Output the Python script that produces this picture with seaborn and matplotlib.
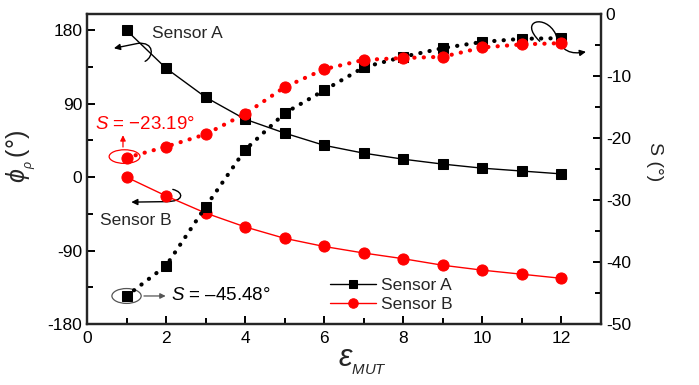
import numpy as np
import pandas as pd
import matplotlib
matplotlib.use("Agg")
import matplotlib.pyplot as plt
import seaborn as sns
from matplotlib.path import Path
from matplotlib.patches import FancyArrowPatch, Ellipse
from matplotlib.ticker import MultipleLocator

# ---- data ----
eps_mut = [1, 2, 3, 4, 5, 6, 7, 8, 9, 10, 11, 12]
phi_sensor_a = [180, 133.5, 98, 71, 54, 39, 29.4, 22, 16, 11, 7.5, 4]
phi_sensor_b = [0, -23, -44, -61, -75, -85, -93, -100, -108, -114, -119, -124]
s_sensor_a = [-45.48, -40.6, -31.1, -21.9, -16.0, -12.3, -8.6, -6.9, -5.5, -4.5, -4.0, -3.9]
s_sensor_b = [-23.19, -21.4, -19.4, -16.1, -11.8, -8.9, -7.4, -7.1, -6.9, -5.4, -4.9, -4.7]
series_labels = ["Sensor A", "Sensor B"]

sns.set_style("ticks")
plt.rcParams["font.family"] = ["Liberation Sans", "DejaVu Sans"]
plt.rcParams["mathtext.fontset"] = "custom"
plt.rcParams["mathtext.rm"] = "Liberation Sans"
plt.rcParams["mathtext.it"] = "Liberation Sans:italic"
plt.rcParams["mathtext.bf"] = "Liberation Sans:bold"
plt.rcParams["axes.unicode_minus"] = False

RED = "#ff0000"
fig = plt.figure(figsize=(6.99, 3.85), dpi=100)
ax = fig.add_axes([87 / 699, 1 - 324 / 385, (601 - 87) / 699, (324 - 14) / 385])
ax2 = ax.twinx()

df = pd.DataFrame({"eps": eps_mut, "phiA": phi_sensor_a, "phiB": phi_sensor_b,
                   "sA": s_sensor_a, "sB": s_sensor_b})

sns.lineplot(data=df, x="eps", y="phiA", ax=ax, color="black", marker="s",
             markersize=7, markeredgecolor="black", linewidth=1, label=series_labels[0])
sns.lineplot(data=df, x="eps", y="phiB", ax=ax, color=RED, marker="o",
             markersize=8, markeredgecolor=RED, linewidth=1, label=series_labels[1])
dotted = (0, (0.05, 2.2))
sns.lineplot(data=df, x="eps", y="sA", ax=ax2, color="black", marker="s",
             markersize=7, markeredgecolor="black", linewidth=3.0, linestyle=dotted,
             dash_capstyle="round", legend=False)
sns.lineplot(data=df, x="eps", y="sB", ax=ax2, color=RED, marker="o",
             markersize=8, markeredgecolor=RED, linewidth=3.0, linestyle=dotted,
             dash_capstyle="round", legend=False)

ax.set_xlim(0, 13)
ax.set_ylim(-180, 200)
ax2.set_ylim(-50, 0)
ax.xaxis.set_major_locator(MultipleLocator(2))
ax.xaxis.set_minor_locator(MultipleLocator(1))
ax.set_yticks([-180, -90, 0, 90, 180])
ax.yaxis.set_minor_locator(MultipleLocator(45))
ax2.yaxis.set_major_locator(MultipleLocator(10))
ax2.yaxis.set_minor_locator(MultipleLocator(5))

for a in (ax, ax2):
    for s in a.spines.values():
        s.set_linewidth(1.6)
    a.tick_params(which="both", direction="in", width=1.4, labelsize=12.5, colors="black")
    a.tick_params(which="major", length=6)
    a.tick_params(which="minor", length=4)
ax.tick_params(axis="both", which="both", top=False, right=False)
ax2.tick_params(axis="y", which="both", left=False, right=True)
ax.tick_params(axis="x", pad=5)

ax.set_xlabel(r"$\varepsilon_{_{MUT}}$", fontsize=22)
ax.xaxis.set_label_coords(0.535, -0.075)
ax.set_ylabel(r"$\phi_{_\rho}\,$(°)", fontsize=18)
ax.yaxis.set_label_coords(-0.095, 0.54)
ax2.set_ylabel("S (°)", fontsize=14, rotation=270, va="bottom")
ax2.yaxis.set_label_coords(1.088, 0.525)

# legend
ax.legend(loc="lower left", bbox_to_anchor=(0.45, 0.0), frameon=False, fontsize=12.5,
          handlelength=2.6, handletextpad=0.3, labelspacing=0.2, borderaxespad=0.3,
          markerscale=0.85)

# ---- annotations ----
ax.text(1.64, 176, "Sensor A", fontsize=12.5, va="center", ha="left")
ax.text(0.33, -53, "Sensor B", fontsize=12.5, va="center", ha="left")


def hook(axis, pts):
    codes = [Path.MOVETO, Path.CURVE4, Path.CURVE4, Path.CURVE4, Path.LINETO]
    p = FancyArrowPatch(path=Path(pts, codes), arrowstyle="-|>", mutation_scale=9,
                        color="black", linewidth=1.0)
    axis.add_patch(p)


hook(ax, [(1.47, 142), (1.70, 148), (1.70, 166), (1.29, 164), (0.68, 158)])
hook(ax, [(2.17, -15), (2.46, -18.5), (2.46, -30), (2.0, -30), (1.12, -30.6)])

rp = FancyArrowPatch(path=Path([(11.45, -4.4), (10.9, -1.0), (11.6, 0.0), (11.85, -3.2),
                                (12.0, -6.2), (12.25, -6.5), (12.62, -6.1)],
                               [Path.MOVETO, Path.CURVE4, Path.CURVE4, Path.CURVE4,
                                Path.CURVE4, Path.CURVE4, Path.CURVE4]),
                     arrowstyle="-|>", mutation_scale=9, color="black", linewidth=1.0)
ax2.add_patch(rp)

ax2.add_patch(Ellipse((0.95, -23.0), 0.78, 2.2, fill=False, edgecolor=RED, linewidth=0.9))
ax2.add_patch(Ellipse((1.0, -45.48), 0.74, 2.4, fill=False, edgecolor="#555555", linewidth=0.9))

ax2.annotate("", xy=(0.91, -19.1), xytext=(0.91, -21.9),
             arrowprops=dict(arrowstyle="-|>", color=RED, lw=0.9, mutation_scale=8))
ax2.annotate("", xy=(2.06, -45.48), xytext=(1.37, -45.48),
             arrowprops=dict(arrowstyle="-|>", color="#555555", lw=0.9, mutation_scale=8))

ax2.text(0.2, -17.8, "$S$ = \u221223.19\u00b0", color=RED, fontsize=13.5, va="center", ha="left")
ax2.text(2.12, -45.48, "$S$ = \u201345.48\u00b0", color="black", fontsize=13.5, va="center", ha="left")

fig.savefig("out.png", dpi=100)
